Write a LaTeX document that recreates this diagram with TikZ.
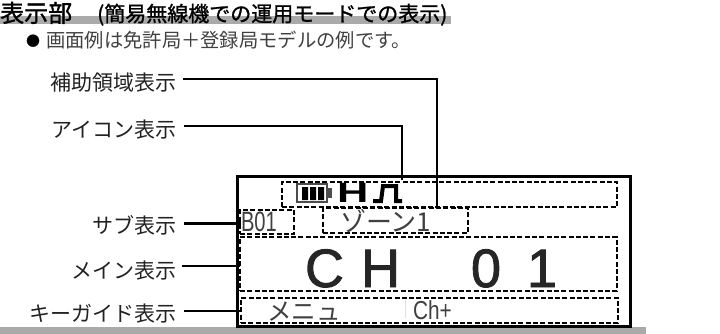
\documentclass[tikz,border=0pt]{standalone}
\usepackage{fontspec}
\setmainfont{Liberation Sans}
\newfontfamily\jp{Noto Sans CJK JP}
\newfontfamily\jpb[BoldFont={Noto Sans CJK JP},BoldFeatures={FakeBold=1.2}]{Noto Sans CJK JP}
\newfontfamily\lcdf[BoldFont={Liberation Sans},BoldFeatures={FakeBold=1.6}]{Liberation Sans}
\definecolor{barg}{HTML}{AAAAAA}
\definecolor{txt}{HTML}{222222}
\newcommand{\fs}[1]{\fontsize{#1pt}{#1pt}\selectfont}
\tikzset{
  dbox/.style={draw=black,line width=2.6pt,dash pattern=on 5pt off 2.3pt,inner sep=0pt,outer sep=0pt,anchor=north west},
  lab/.style={inner sep=0pt,outer sep=0pt,anchor=base east,text=txt,font=\jp\fs{21}},
  conn/.style={draw=black,line width=2.4pt},
  lcd/.style={inner sep=0pt,outer sep=0pt,anchor=base west,text=black!75},
  bar/.style={fill=barg,draw=none}
}
\begin{document}
\begin{tikzpicture}[x=1pt,y=-1pt]
\useasboundingbox (0,0) rectangle (720,334);
\fill[white] (0,0) rectangle (720,334);
% bars
\fill[bar] (0,16) rectangle (451,24);
\fill[bar] (0,327) rectangle (646,334);
% headings
\node[inner sep=0pt,anchor=base west,text=black,font=\jpb\bfseries\fs{24}] (t1) at (0,22) {表示部};
\node[inner sep=0pt,anchor=base west,text=black,font=\jpb\bfseries\fs{21}] (t2) at (97,21.5) {(簡易無線機での運用モードでの表示)};
\node[inner sep=0pt,anchor=base west,text=black,font=\jp\fs{14}] (dot) at (26,46.5) {●};
\node[inner sep=0pt,anchor=base west,text=black!75,font=\jp\fs{19.3}] (t3) at (46,48) {画面例は免許局＋登録局モデルの例です。};
% display frame
\node[draw=black,line width=3pt,inner sep=0pt,outer sep=0pt,anchor=north west,minimum width=393pt,minimum height=150pt] (lcdframe) at (237,176) {};
% dashed areas
\node[dbox,minimum width=335pt,minimum height=25pt] (icon) at (282,182) {};
\node[dbox,minimum width=54pt,minimum height=24pt] (sub) at (240,210) {};
\node[dbox,minimum width=145pt,minimum height=25pt] (zone) at (323,208) {};
\node[dbox,minimum width=377pt,minimum height=54pt] (main) at (240,237) {};
\node[dbox,minimum width=377pt,minimum height=25pt] (key) at (241,298) {};
% labels
\node[lab] (laux) at (176,91) {補助領域表示};
\node[lab] (licon) at (176,138) {アイコン表示};
\node[lab] (lsub) at (176,233) {サブ表示};
\node[lab] (lmain) at (176,278) {メイン表示};
\node[lab] (lkey) at (176,321) {キーガイド表示};
% connectors
\coordinate (a0) at (183,79); \coordinate (a1) at (437,209);
\coordinate (b0) at (184,126); \coordinate (b1) at (402,180);
\draw[conn] (a0) -| (a1);
\draw[conn] (b0) -| (b1);
\coordinate (c0) at (184,223); \coordinate (c1) at (241,223);
\coordinate (d0) at (182,266); \coordinate (d1) at (240,266);
\coordinate (e0) at (184,311); \coordinate (e1) at (242,311);
\draw[conn,line width=3pt] (c0) -- (c1);
\draw[conn,line width=2pt] (d0) -- (d1);
\draw[conn,line width=2pt] (e0) -- (e1);
% battery icon
\draw[black!70,line width=1.6pt] (297,184) rectangle (327,202);
\fill[black!70] (327,188) rectangle (332,198);
\fill[black] (302,187) rectangle (308,200) (310,187) rectangle (316,200) (318,187) rectangle (324,200);
% H and pulse glyph
\node[lcd,text=black,font=\bfseries\fs{28},xscale=1.55,transform shape,anchor=base west] (hh) at (337,202.5) {H};
\draw[black,line width=4pt] (373,201) -- (381,201) -- (383,186) -- (396,186) -- (396,201) -- (402,201);
% small LCD texts
\node[lcd,font=\fs{28},xscale=.72,transform shape] (b01) at (241,231.5) {B01};
\node[lcd,font=\jp\fs{26}] (zonet) at (340,231) {ゾーン1};
\node[lcd,font=\jp\fs{24.5}] (menu) at (267,320) {メニュ};
\node[lcd,font=\fs{26},xscale=.8,transform shape] (chp) at (413,319.5) {Ch+};
\draw[black!12,line width=1pt] (405,300) -- (405,318);
% main channel text
\node[lcd,text=black!85,font=\lcdf\bfseries\fs{54}] (c) at (305,287) {C};
\node[lcd,text=black!85,font=\lcdf\bfseries\fs{54}] (h) at (361,287) {H};
\node[lcd,text=black!85,font=\lcdf\bfseries\fs{54}] (zero) at (471,287) {0};
\node[lcd,text=black!85,font=\lcdf\bfseries\fs{54}] (one) at (527,287) {1};
\end{tikzpicture}
\end{document}
